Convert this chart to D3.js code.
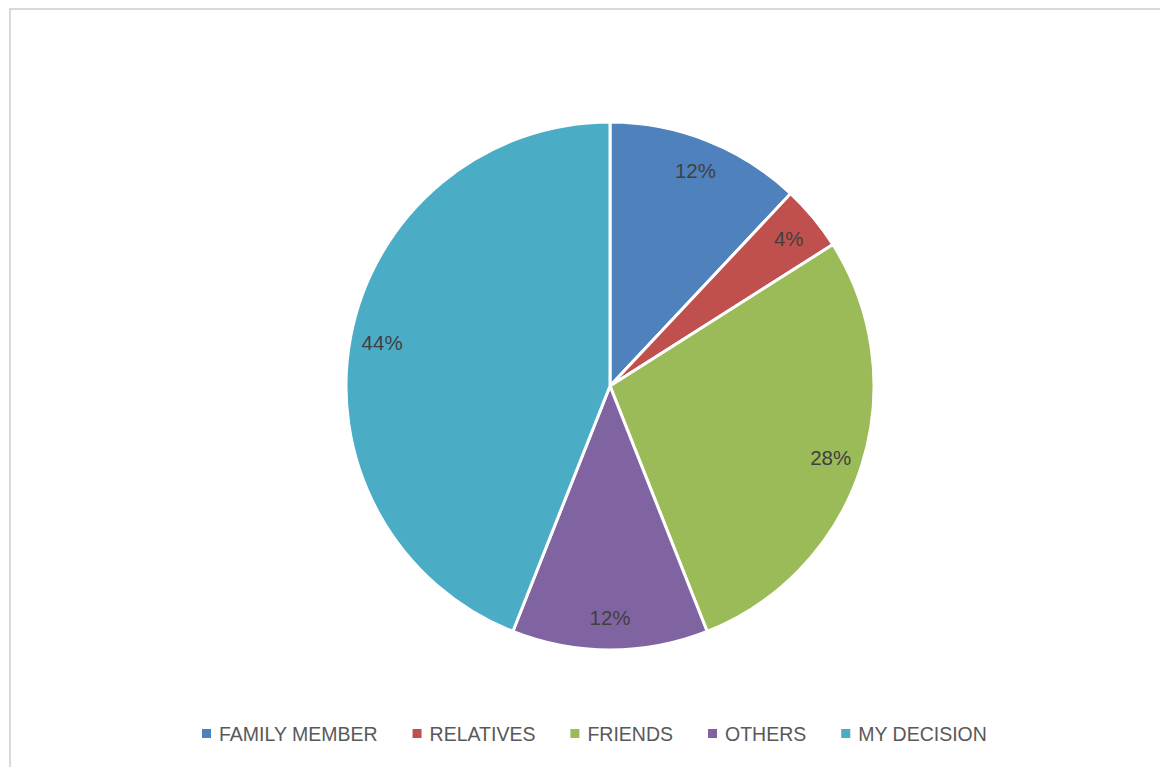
<!DOCTYPE html>
<html>
<head>
<meta charset="utf-8">
<script src="https://cdn.jsdelivr.net/npm/d3@7/dist/d3.min.js"></script>
<style>
  html, body { margin: 0; padding: 0; background: #fff; }
  svg { display: block; }
</style>
</head>
<body>
<svg id="chart" width="1160" height="767"></svg>
<script>
// Who influenced the decision — share of respondents
const categories = ["FAMILY MEMBER", "RELATIVES", "FRIENDS", "OTHERS", "MY DECISION"];
const values = [12, 4, 28, 12, 44];
const colors = ["#4F81BD", "#C0504D", "#9BBB59", "#8064A2", "#4BACC6"];

const W = 1160, H = 767;
const svg = d3.select("#chart");
const font = "'Liberation Sans', Arial, sans-serif";

// chart frame (runs past the right and bottom edges)
svg.append("rect")
  .attr("x", 10).attr("y", 9)
  .attr("width", 1170).attr("height", 780)
  .attr("fill", "#fff")
  .attr("stroke", "#d9d9d9")
  .attr("stroke-width", 2);

const cx = 610, cy = 386, radius = 264, labelR = 232;

const data = categories.map((c, i) => ({ name: c, value: values[i], color: colors[i] }));
const pie = d3.pie().value(d => d.value).sort(null);
const arcs = pie(data);
const arc = d3.arc().innerRadius(0).outerRadius(radius);
const labelArc = d3.arc().innerRadius(labelR).outerRadius(labelR);

const g = svg.append("g").attr("transform", `translate(${cx},${cy})`);

g.selectAll("path.slice")
  .data(arcs)
  .join("path")
  .attr("class", "slice")
  .attr("d", arc)
  .attr("fill", d => d.data.color)
  .attr("stroke", "#fff")
  .attr("stroke-width", 3)
  .attr("stroke-linejoin", "round");

const total = d3.sum(values);
g.selectAll("text.pct")
  .data(arcs)
  .join("text")
  .attr("class", "pct")
  .attr("transform", d => `translate(${labelArc.centroid(d)})`)
  .attr("text-anchor", "middle")
  .attr("dy", "0.36em")
  .attr("font-family", font)
  .attr("font-size", 20.5)
  .attr("fill", "#404040")
  .text(d => Math.round(d.data.value / total * 100) + "%");

// legend row under the plot
const legend = svg.append("g").attr("transform", "translate(202,729)");
const items = legend.selectAll("g.item")
  .data(data)
  .join("g")
  .attr("class", "item");
items.append("rect")
  .attr("width", 9).attr("height", 9)
  .attr("fill", d => d.color);
items.append("text")
  .attr("x", 17).attr("y", 12)
  .attr("font-family", font)
  .attr("font-size", 19.5)
  .attr("fill", "#595959")
  .text(d => d.name);

const gap = 35;
let x = 0;
const offsets = [];
items.each(function () {
  const w = d3.select(this).select("text").node().getComputedTextLength() + 17;
  offsets.push(x);
  x += w + gap;
});
items.attr("transform", (d, i) => `translate(${offsets[i]},0)`);
</script>
</body>
</html>
